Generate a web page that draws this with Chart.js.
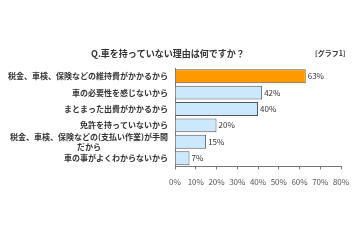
<!DOCTYPE html>
<html>
<head>
<meta charset="utf-8">
<script src="https://cdn.jsdelivr.net/npm/chart.js@4/dist/chart.umd.min.js"></script>
<style>
  body { margin: 0; background: #fff; }
</style>
</head>
<body>
<canvas id="chart" width="360" height="240"></canvas>
<script>
const categories = [
  ["税金、車検、保険などの維持費がかかるから"],
  ["車の必要性を感じないから"],
  ["まとまった出費がかかるから"],
  ["免許を持っていないから"],
  ["税金、車検、保険などの(支払い作業)が手間", "だから"],
  ["車の事がよくわからないから"]
];
const values = [63, 42, 40, 20, 15, 7];
const barColors = ["#ff9900", "#cce8fc", "#cce8fc", "#cce8fc", "#cce8fc", "#cce8fc"];
const xMax = 80;
const xStep = 10;

const FONT = '"Noto Sans CJK JP", "Noto Sans", sans-serif';

// title, category labels and value labels
const textPlugin = {
  id: "texts",
  afterDatasetsDraw(chart) {
    const ctx = chart.ctx;
    const y = chart.scales.y;
    const area = chart.chartArea;
    ctx.save();
    ctx.fillStyle = "#333";
    ctx.textBaseline = "middle";

    ctx.font = "bold 9px " + FONT;
    ctx.textAlign = "left";
    ctx.fillText("Q.車を持っていない理由は何ですか？", 91, 54);
    ctx.font = "bold 7px " + FONT;
    ctx.fillText("[グラフ1]", 315, 53);

    ctx.font = "bold 8px " + FONT;
    ctx.textAlign = "center";
    categories.forEach((lines, i) => {
      const cy = y.getPixelForTick(i);
      const w = Math.max(...lines.map(l => ctx.measureText(l).width));
      const cx = area.left - 7 - w / 2;
      const lh = 10;
      lines.forEach((l, j) => {
        ctx.fillText(l, cx, cy + (j - (lines.length - 1) / 2) * lh);
      });
    });

    ctx.font = "8px " + FONT;
    ctx.textAlign = "left";
    chart.getDatasetMeta(0).data.forEach((bar, i) => {
      ctx.fillText(values[i] + "%", bar.x + 2, bar.y);
    });
    ctx.restore();
  }
};

new Chart(document.getElementById("chart").getContext("2d"), {
  type: "bar",
  data: {
    labels: categories.map(c => c.join("")),
    datasets: [{
      data: values,
      backgroundColor: barColors,
      borderColor: "#555",
      borderWidth: 1,
      barPercentage: 0.85,
      categoryPercentage: 1
    }]
  },
  options: {
    indexAxis: "y",
    responsive: false,
    animation: false,
    layout: { padding: { top: 68, right: 19, bottom: 45, left: 175 } },
    plugins: { legend: { display: false }, tooltip: { enabled: false } },
    scales: {
      x: {
        min: 0,
        max: xMax,
        border: { color: "#777" },
        grid: { drawOnChartArea: false, tickLength: 3, color: "#777" },
        ticks: {
          stepSize: xStep,
          padding: 8,
          maxRotation: 0,
          color: "#555",
          font: { family: FONT, size: 8 },
          callback: v => v + "%"
        }
      },
      y: {
        border: { color: "#777" },
        grid: { display: false, drawTicks: false },
        ticks: { display: false, padding: 0 }
      }
    }
  },
  plugins: [textPlugin]
});
</script>
</body>
</html>
